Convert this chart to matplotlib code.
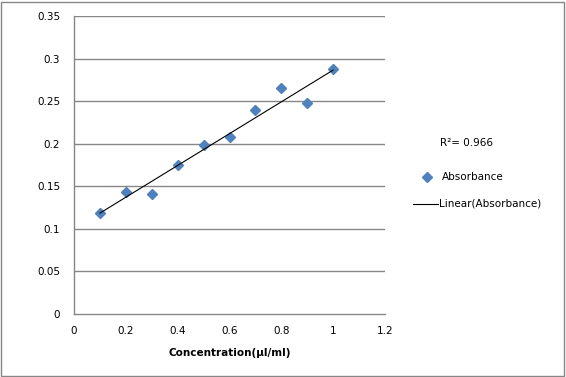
import numpy as np
import matplotlib
matplotlib.use('Agg')
import matplotlib.pyplot as plt
from matplotlib.patches import Rectangle
from matplotlib.lines import Line2D

concentration = [0.1, 0.2, 0.3, 0.4, 0.5, 0.6, 0.7, 0.8, 0.9, 1.0]
absorbance = [0.119, 0.143, 0.141, 0.175, 0.198, 0.208, 0.240, 0.265, 0.248, 0.288]
x_ticks = [0, 0.2, 0.4, 0.6, 0.8, 1, 1.2]
x_tick_labels = ['0', '0.2', '0.4', '0.6', '0.8', '1', '1.2']
y_ticks = [0, 0.05, 0.1, 0.15, 0.2, 0.25, 0.3, 0.35]
y_tick_labels = ['0', '0.05', '0.1', '0.15', '0.2', '0.25', '0.3', '0.35']
r2_text = 'R²= 0.966'

blue = '#4F81BD'
grey = '#868686'
plt.rcParams['font.family'] = ['DejaVu Sans']

W, H = 566, 377
fig = plt.figure(figsize=(W / 100, H / 100), dpi=100)
fig.patches.append(Rectangle((1 / W, 1 / H), (W - 3) / W, (H - 3) / H,
                             transform=fig.transFigure, fill=False,
                             edgecolor=grey, linewidth=1))

ax = fig.add_axes([74 / W, 1 - 314 / H, (385 - 74) / W, (314 - 16) / H])
ax.set_xlim(0, 1.2)
ax.set_ylim(0, 0.35)

for y in y_ticks[1:]:
    ax.axhline(y, color=grey, linewidth=1, zorder=1)

# linear trendline, like excel's
slope, intercept = np.polyfit(concentration, absorbance, 1)
xs = np.array([concentration[0], concentration[-1]])
ax.plot(xs, slope * xs + intercept, color='black', linewidth=0.8, zorder=3)
ax.plot(concentration, absorbance, linestyle='none', marker='D',
        markersize=5.5, color=blue, markeredgecolor=blue, zorder=2)

for s in ['top', 'right']:
    ax.spines[s].set_visible(False)
for s in ['left', 'bottom']:
    ax.spines[s].set_color(grey)
    ax.spines[s].set_linewidth(1)

ax.set_xticks(x_ticks)
ax.set_xticklabels(x_tick_labels)
ax.set_yticks(y_ticks)
ax.set_yticklabels(y_tick_labels)
ax.tick_params(length=0, labelsize=7.5, pad=10)
ax.tick_params(axis='x', pad=9)
ax.set_xlabel('Concentration(µl/ml)', fontsize=7.5, fontweight='bold', labelpad=8)

# legend drawn by hand on the right
fig.text(440 / W, 1 - 143 / H, r2_text, fontsize=7.5, va='center', ha='left')
fig.lines.append(Line2D([427 / W], [1 - 177 / H], transform=fig.transFigure,
                        marker='D', markersize=5.5, color=blue, linestyle='none'))
fig.text(442 / W, 1 - 177 / H, 'Absorbance', fontsize=7.5, va='center', ha='left')
fig.lines.append(Line2D([413 / W, 438 / W], [1 - 204 / H, 1 - 204 / H],
                        transform=fig.transFigure, color='black', linewidth=0.8))
fig.text(439 / W, 1 - 204 / H, 'Linear(Absorbance)', fontsize=7.5, va='center', ha='left')

fig.savefig('out.png', dpi=100)
